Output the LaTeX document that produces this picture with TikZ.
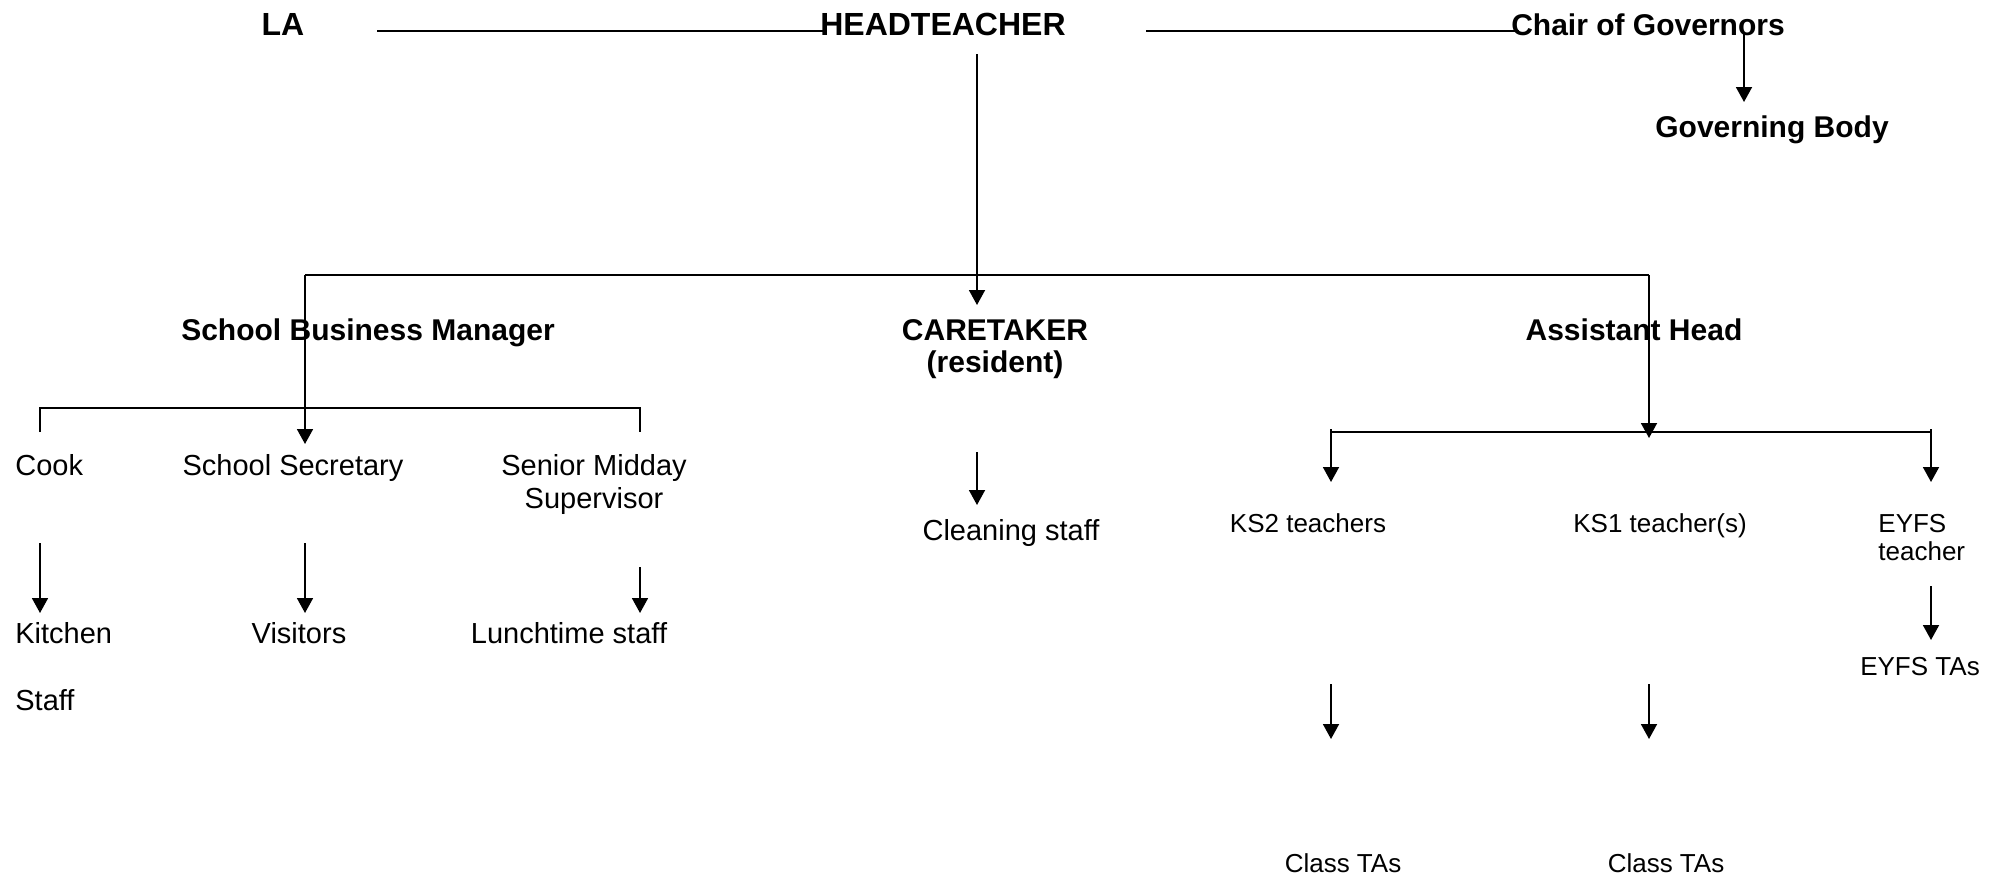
\documentclass[tikz,border=0pt]{standalone}
\usepackage{fontspec}
\setmainfont{Liberation Sans}
\usetikzlibrary{arrows.meta}

\tikzset{
    toplabel/.style={font=\bfseries\fontsize{16}{19}\selectfont, inner sep=0pt, anchor=base},
    bosslabel/.style={font=\bfseries\fontsize{15}{16}\selectfont, inner sep=0pt, anchor=base, align=center},
    stafflabel/.style={font=\fontsize{14.5}{16.5}\selectfont, inner sep=0pt, anchor=base, align=center},
    teamlabel/.style={font=\fontsize{13}{14}\selectfont, inner sep=0pt, anchor=base, align=left},
    bar/.style={line width=0.9pt},
    arr/.style={line width=0.9pt, -{Triangle[length=7.5pt, width=8pt]}}
}

\begin{document}
\begin{tikzpicture}[x=0.5pt, y=-0.5pt]
            \useasboundingbox (0,0) rectangle (2002,878);

            % top row
            \node[toplabel] (la) at (283,35) {LA};
            \node[toplabel] (head) at (943,35) {HEADTEACHER};
            \node[bosslabel] (chair) at (1648,35) {Chair of Governors};
            \node[bosslabel] (govbody) at (1772,137) {Governing Body};

            \coordinate (laline) at (377,31);
            \coordinate (headwest) at (824,31);
            \coordinate (headeast) at (1146,31);
            \coordinate (chairwest) at (1519,31);
            \draw[bar] (laline) -- (headwest);
            \draw[bar] (headeast) -- (chairwest);

            \coordinate (chairtail) at (1744,33);
            \coordinate (govtip) at (1744,102);
            \draw[arr] (chairtail) -- (govtip);

            % managers (base of a two-line node sits on its last line)
            \node[bosslabel] (sbm) at (368,340) {School Business Manager};
            \node[bosslabel] (caretaker) at (995,372) {CARETAKER\\(resident)};
            \node[bosslabel] (asshead) at (1634,340) {Assistant Head};

            \coordinate (headtail) at (977,54);
            \coordinate (caretip) at (977,305);
            \draw[arr] (headtail) -- (caretip);

            \coordinate (barL) at (305,275);
            \coordinate (barR) at (1649,275);
            \coordinate (sectip) at (305,444);
            \coordinate (teamtip) at (1649,438);
            \draw[bar] (barL) -- (barR);
            \draw[arr] (barL) -- (sectip);
            \draw[arr] (barR) -- (teamtip);

            % office and kitchen
            \node[stafflabel, anchor=base west] (cook) at (15,475) {Cook};
            \node[stafflabel] (secretary) at (293,475) {School Secretary};
            \node[stafflabel] (midday) at (594,508) {Senior Midday\\Supervisor};
            \draw[bar] (40,432) -- (40,408) -- (640,408) -- (640,432);

            \node[stafflabel, anchor=base west] (kitchen) at (15,643) {Kitchen};
            \node[stafflabel, anchor=base west] (kitchenstaff) at (15,710) {Staff};
            \node[stafflabel] (visitors) at (299,643) {Visitors};
            \node[stafflabel] (lunch) at (569,643) {Lunchtime staff};

            \draw[arr] (40,543) -- (40,613);
            \draw[arr] (305,543) -- (305,613);
            \draw[arr] (640,567) -- (640,613);

            % caretaking
            \node[stafflabel] (cleaning) at (1011,540) {Cleaning staff};
            \draw[arr] (977,452) -- (977,505);

            % teaching
            \node[teamlabel] (ks2) at (1308,532) {KS2 teachers};
            \node[teamlabel] (ks1) at (1660,532) {KS1 teacher(s)};
            \node[teamlabel, anchor=base west] (eyfs) at (1878,560) {EYFS\\teacher};
            \node[teamlabel] (eyfsta) at (1920,675) {EYFS TAs};
            \node[teamlabel] (classta2) at (1343,872) {Class TAs};
            \node[teamlabel] (classta1) at (1666,872) {Class TAs};

            \draw[bar] (1331,432) -- (1931,432);
            \draw[arr] (1331,429) -- (1331,482);
            \draw[arr] (1931,429) -- (1931,482);
            \draw[arr] (1931,586) -- (1931,640);
            \draw[arr] (1331,684) -- (1331,739);
            \draw[arr] (1649,684) -- (1649,739);
        \end{tikzpicture}
\end{document}
